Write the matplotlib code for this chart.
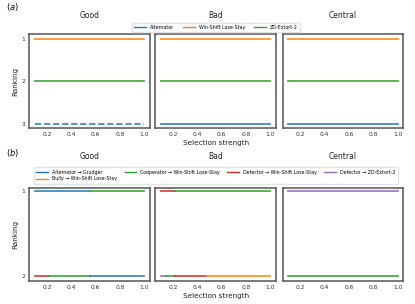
import matplotlib
matplotlib.use("Agg")
import matplotlib.pyplot as plt
from matplotlib.lines import Line2D

plt.rcParams['font.family'] = ['DejaVu Sans']

panels = ["Good", "Bad", "Central"]
xticks = [0.2, 0.4, 0.6, 0.8, 1.0]

colors = {
    "Alternator": "#1f77b4",
    "Win-Shift Lose-Stay": "#ff7f0e",
    "ZD-Extort-2": "#2ca02c",
    "Alternator → Grudger": "#1f77b4",
    "Bully → Win-Shift Lose-Stay": "#ff7f0e",
    "Cooperator → Win-Shift Lose-Stay": "#2ca02c",
    "Defector → Win-Shift Lose-Stay": "#d62728",
    "Defector → ZD-Extort-2": "#9467bd",
}

# (a) segments: (label, rank, start, end, linestyle)
a_segments = {
    "Good": [("Win-Shift Lose-Stay", 1, 0.1, 1.0, "-"),
             ("ZD-Extort-2", 2, 0.1, 1.0, "-"),
             ("Alternator", 3, 0.1, 1.0, "--")],
    "Bad": [("Win-Shift Lose-Stay", 1, 0.1, 1.0, "-"),
            ("ZD-Extort-2", 2, 0.1, 1.0, "-"),
            ("Alternator", 3, 0.1, 1.0, "-")],
    "Central": [("Win-Shift Lose-Stay", 1, 0.1, 1.0, "-"),
                ("ZD-Extort-2", 2, 0.1, 1.0, "-"),
                ("Alternator", 3, 0.1, 1.0, "-")],
}
a_legend = ["Alternator", "Win-Shift Lose-Stay", "ZD-Extort-2"]

b_segments = {
    "Good": [("Alternator → Grudger", 1, 0.1, 0.55),
             ("Cooperator → Win-Shift Lose-Stay", 1, 0.55, 1.0),
             ("Defector → Win-Shift Lose-Stay", 2, 0.1, 0.22),
             ("Cooperator → Win-Shift Lose-Stay", 2, 0.22, 0.55),
             ("Alternator → Grudger", 2, 0.55, 1.0)],
    "Bad": [("Defector → Win-Shift Lose-Stay", 1, 0.1, 0.22),
            ("Cooperator → Win-Shift Lose-Stay", 1, 0.22, 1.0),
            ("Defector → ZD-Extort-2", 2, 0.1, 0.14),
            ("Cooperator → Win-Shift Lose-Stay", 2, 0.14, 0.22),
            ("Defector → Win-Shift Lose-Stay", 2, 0.22, 0.47),
            ("Bully → Win-Shift Lose-Stay", 2, 0.47, 1.0)],
    "Central": [("Defector → ZD-Extort-2", 1, 0.1, 1.0),
                ("Cooperator → Win-Shift Lose-Stay", 2, 0.1, 1.0)],
}
b_legend = ["Alternator → Grudger", "Bully → Win-Shift Lose-Stay",
            "Cooperator → Win-Shift Lose-Stay", "Defector → Win-Shift Lose-Stay",
            "Defector → ZD-Extort-2"]

W, H = 415, 304
fig = plt.figure(figsize=(W / 100, H / 100), dpi=100)

lefts = [29.3, 155.3, 282.7]
width = 120.6
ALPHA = 0.85

def style_ax(ax):
    for s in ax.spines.values():
        s.set_color("#555555")
        s.set_linewidth(1.1)
    ax.tick_params(length=0, labelsize=4.3, colors="#333333", pad=3)
    ax.set_xlim(0.055, 1.045)
    ax.set_xticks(xticks)
    ax.set_xticklabels([f"{t:.1f}" for t in xticks])

# panel (a)
a_top, a_bot = 34.3, 128.3
axes_a = []
for i, p in enumerate(panels):
    ax = fig.add_axes([lefts[i] / W, 1 - a_bot / H, width / W, (a_bot - a_top) / H])
    for lab, r, s, e, ls in a_segments[p]:
        if ls == "--":
            ax.plot([s, e], [r, r], color=colors[lab], lw=1.3, ls=ls,
                    dashes=(3.5, 1.5), alpha=ALPHA)
        else:
            ax.plot([s, e], [r, r], color=colors[lab], lw=1.3, ls=ls, alpha=ALPHA)
    ax.set_ylim(3.1, 0.9)
    ax.set_yticks([1, 2, 3])
    style_ax(ax)
    if i > 0:
        ax.set_yticklabels([])
    ax.set_title(p, fontsize=5.5, pad=12, color="#222222")
    axes_a.append(ax)
axes_a[0].set_ylabel("Ranking", fontsize=5.2, color="#222222", labelpad=2)
axes_a[1].set_xlabel("Selection strength", fontsize=5.2, color="#222222", labelpad=2)

handles_a = [Line2D([], [], color=colors[l], lw=1.0) for l in a_legend]
fig.legend(handles_a, a_legend, loc="center", bbox_to_anchor=(216 / W, 1 - 27.5 / H),
           ncol=3, fontsize=3.4, frameon=True, edgecolor="#dddddd", handlelength=2.5,
           columnspacing=2.0, borderpad=0.5, handletextpad=0.8)
fig.text(6 / W, 1 - 7 / H, r"$(a)$", fontsize=6, va="center", ha="left")

# panel (b)
b_top, b_bot = 187.7, 280.7
axes_b = []
for i, p in enumerate(panels):
    ax = fig.add_axes([lefts[i] / W, 1 - b_bot / H, width / W, (b_bot - b_top) / H])
    for lab, r, s, e in b_segments[p]:
        ax.plot([s, e], [r, r], color=colors[lab], lw=1.3, alpha=ALPHA)
    ax.set_ylim(2.055, 0.96)
    ax.set_yticks([1, 2])
    style_ax(ax)
    if i > 0:
        ax.set_yticklabels([])
    ax.set_title(p, fontsize=5.5, pad=21, color="#222222")
    axes_b.append(ax)
axes_b[0].set_ylabel("Ranking", fontsize=5.2, color="#222222", labelpad=2)
axes_b[1].set_xlabel("Selection strength", fontsize=5.2, color="#222222", labelpad=2)

handles_b = [Line2D([], [], color=colors[l], lw=1.0) for l in b_legend]
fig.legend(handles_b, b_legend, loc="center", bbox_to_anchor=(216 / W, 1 - 175.5 / H),
           ncol=4, fontsize=3.4, frameon=True, edgecolor="#dddddd", handlelength=2.5,
           columnspacing=1.6, borderpad=0.5, handletextpad=0.8, labelspacing=0.3)
fig.text(6 / W, 1 - 153 / H, r"$(b)$", fontsize=6, va="center", ha="left")

fig.savefig("out.png", dpi=100, facecolor="white")
